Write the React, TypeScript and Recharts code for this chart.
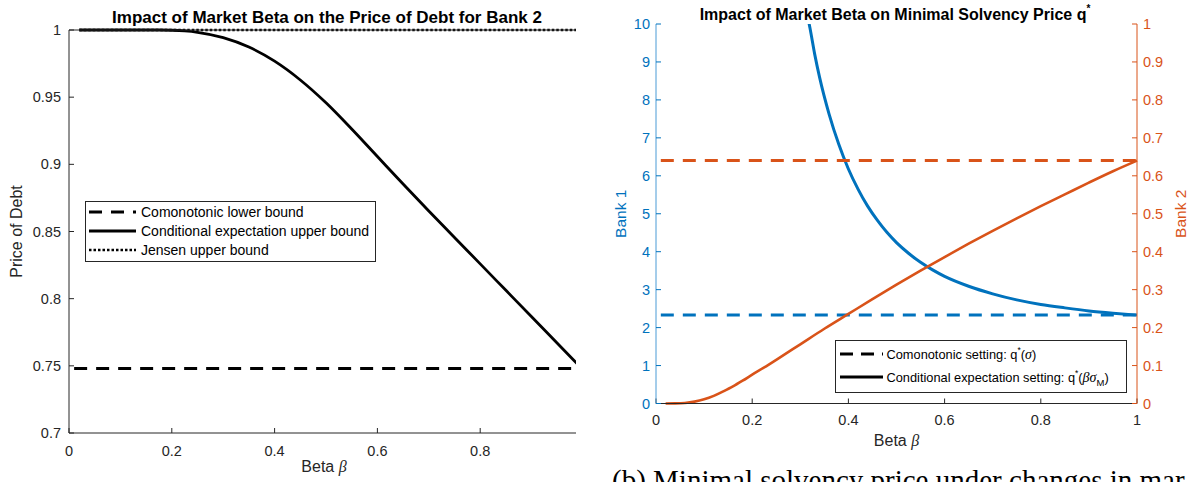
import React from 'react';
import { LineChart, Line, XAxis, YAxis, Legend } from 'recharts';

// ---------- Left panel: price of debt for Bank 2 ----------
const leftBeta = [0.02, 0.05, 0.1, 0.15, 0.175, 0.2, 0.225, 0.25, 0.3, 0.35, 0.4, 0.45, 0.5, 0.55, 0.6, 0.65, 0.7, 0.75, 0.8, 0.85, 0.9, 0.95, 1.0];
const condUpperBank2 = [1, 1, 1, 1, 1, 0.9998, 0.9993, 0.9983, 0.9943, 0.9873, 0.9768, 0.9628, 0.9458, 0.9263, 0.9058, 0.8853, 0.8653, 0.8456, 0.8259, 0.8062, 0.7865, 0.7668, 0.7471];
const comonoBetaLeft = [0.01, 1.0];
const comonoLowerBank2 = [0.748, 0.748];
const jensenBeta = [0.02, 1.0];
const jensenUpperBank2 = [1, 1];
const leftXTicks = [0, 0.2, 0.4, 0.6, 0.8];
const leftYTicks = [0.7, 0.75, 0.8, 0.85, 0.9, 0.95, 1];
const leftLegendLabels = ['Comonotonic lower bound', 'Conditional expectation upper bound', 'Jensen upper bound'];

// ---------- Right panel: minimal solvency price q* ----------
const bank1Beta = [0.31, 0.32, 0.33, 0.34, 0.36, 0.38, 0.4, 0.42, 0.44, 0.46, 0.48, 0.5, 0.525, 0.55, 0.575, 0.6, 0.65, 0.7, 0.75, 0.8, 0.85, 0.9, 0.95, 1.0];
const bank1Cond = [10.5, 9.9, 9.2, 8.6, 7.62, 6.83, 6.18, 5.65, 5.2, 4.83, 4.51, 4.24, 3.96, 3.72, 3.52, 3.35, 3.09, 2.89, 2.73, 2.61, 2.52, 2.44, 2.38, 2.33];
const bank2Beta = [0.02, 0.04, 0.06, 0.08, 0.1, 0.12, 0.14, 0.16, 0.18, 0.2, 0.225, 0.25, 0.3, 0.35, 0.4, 0.45, 0.5, 0.55, 0.6, 0.65, 0.7, 0.75, 0.8, 0.85, 0.9, 0.95, 1.0];
const bank2Cond = [0, 0.0003, 0.0015, 0.005, 0.011, 0.02, 0.032, 0.045, 0.06, 0.076, 0.095, 0.115, 0.156, 0.197, 0.236, 0.275, 0.313, 0.35, 0.386, 0.421, 0.455, 0.488, 0.52, 0.551, 0.582, 0.612, 0.64];
const comonoBetaRight = [0.01, 1.0];
const comonoBank1 = [2.33, 2.33];
const comonoBank2 = [0.64, 0.64];
const rightXTicks = [0, 0.2, 0.4, 0.6, 0.8, 1];
const bank1Ticks = [0, 1, 2, 3, 4, 5, 6, 7, 8, 9, 10];
const bank2Ticks = [0, 0.1, 0.2, 0.3, 0.4, 0.5, 0.6, 0.7, 0.8, 0.9, 1];

const toSeries = (xs: number[], ys: number[]) => xs.map((b, i) => ({ beta: b, value: ys[i] }));

const SANS = '"Liberation Sans", Arial, Helvetica, sans-serif';
const SERIF = '"Liberation Serif", "Times New Roman", serif';
const AXIS = '#262626';
const BLUE = '#0072BD';
const ORANGE = '#D95319';

const tickStyle = { fill: AXIS, fontSize: 14.5, fontFamily: SANS };

function LeftLegend() {
  const rows = [11, 30, 49];
  const dashes = ['13 9', undefined, '2.5 2'];
  const widths = [2.8, 2.8, 2.5];
  return (
    <svg width={291} height={61} style={{ display: 'block' }}>
      <rect x={0.5} y={0.5} width={290} height={60} fill="#fff" stroke={AXIS} strokeWidth={1} />
      {leftLegendLabels.map((label, i) => (
        <g key={label}>
          <line x1={4} x2={51} y1={rows[i]} y2={rows[i]} stroke="#000" strokeWidth={widths[i]} strokeDasharray={dashes[i]} />
          <text x={56} y={rows[i]} dy="0.36em" fontSize={14} fontFamily={SANS} fill="#000">{label}</text>
        </g>
      ))}
    </svg>
  );
}

function RightLegend() {
  return (
    <svg width={292} height={53} style={{ display: 'block' }}>
      <rect x={0.5} y={0.5} width={291} height={52} fill="#fff" stroke={AXIS} strokeWidth={1} />
      <line x1={5} x2={48} y1={14} y2={14} stroke="#000" strokeWidth={2.8} strokeDasharray="13 8" />
      <text x={51.5} y={14} dy="0.36em" fontSize={12.8} fontFamily={SANS} fill="#000">
        Comonotonic setting: q<tspan dy={-6} fontSize={8.5}>*</tspan>
        <tspan dy={6}>(</tspan>
        <tspan fontFamily={SERIF} fontStyle="italic" fontSize={14}>σ</tspan>)
      </text>
      <line x1={5} x2={48} y1={37} y2={37} stroke="#000" strokeWidth={2.8} />
      <text x={51.5} y={37} dy="0.36em" fontSize={12.8} fontFamily={SANS} fill="#000">
        Conditional expectation setting: q<tspan dy={-6} fontSize={8.5}>*</tspan>
        <tspan dy={6}>(</tspan>
        <tspan fontFamily={SERIF} fontStyle="italic" fontSize={14}>βσ</tspan>
        <tspan dy={4} fontSize={9.5}>M</tspan>
        <tspan dy={-4}>)</tspan>
      </text>
    </svg>
  );
}

export default function App() {
  return (
    <div style={{ position: 'absolute', left: 0, top: 0, width: 1188, height: 482, overflow: 'hidden', background: '#fff', fontFamily: SANS }}>
      {/* Left panel (cropped on its right edge as in the source figure) */}
      <div style={{ position: 'absolute', left: 0, top: 0, width: 576, height: 482, overflow: 'hidden' }}>
        <LineChart width={620} height={482} margin={{ top: 0, right: 37, bottom: 19, left: 9 }}>
          <XAxis dataKey="beta" type="number" domain={[0, 1]} ticks={leftXTicks} interval={0}
            tickSize={-5} tickMargin={18} height={30} stroke={AXIS} tick={tickStyle} />
          <XAxis xAxisId="top" orientation="top" dataKey="beta" type="number" domain={[0, 1]} ticks={leftXTicks}
            interval={0} tick={false} tickSize={-5} height={30} stroke={AXIS} />
          <YAxis type="number" domain={[0.7, 1]} ticks={leftYTicks} interval={0} width={60}
            tickSize={-5} tickMargin={13} stroke={AXIS} tick={tickStyle} />
          <Line data={toSeries(comonoBetaLeft, comonoLowerBank2)} dataKey="value" name={leftLegendLabels[0]}
            type="linear" stroke="#000" strokeWidth={2.8} strokeDasharray="13 9" dot={false} activeDot={false} isAnimationActive={false} />
          <Line data={toSeries(leftBeta, condUpperBank2)} dataKey="value" name={leftLegendLabels[1]}
            type="monotone" stroke="#000" strokeWidth={2.8} dot={false} activeDot={false} isAnimationActive={false} />
          <Line data={toSeries(jensenBeta, jensenUpperBank2)} dataKey="value" name={leftLegendLabels[2]}
            type="linear" stroke="#000" strokeWidth={2.5} strokeDasharray="2.5 2" dot={false} activeDot={false} isAnimationActive={false} />
          <Legend layout="vertical" align="center" verticalAlign="middle"
            wrapperStyle={{ left: 85, top: 201, width: 291, height: 61 }} content={() => <LeftLegend />} />
        </LineChart>
      </div>

      {/* Right panel */}
      <div style={{ position: 'absolute', left: 576, top: 0, width: 612, height: 482 }}>
        <LineChart width={612} height={482} margin={{ top: 24, right: 6, bottom: 48.5, left: 20 }}>
          <XAxis dataKey="beta" type="number" domain={[0, 1]} ticks={rightXTicks} interval={0}
            tickSize={-5} tickMargin={16.5} height={30} stroke={AXIS} tick={tickStyle} />
          <YAxis yAxisId="left" type="number" domain={[0, 10]} ticks={bank1Ticks} interval={0} width={60}
            tickSize={-5} tickMargin={11} stroke={BLUE} axisLine={{ stroke: '#4a9bd6' }}
            tick={{ fill: BLUE, fontSize: 14.5, fontFamily: SANS }} allowDataOverflow />
          <YAxis yAxisId="right" orientation="right" type="number" domain={[0, 1]} ticks={bank2Ticks} interval={0} width={45}
            tickSize={-5} tickMargin={11} stroke={ORANGE} tick={{ fill: ORANGE, fontSize: 14.5, fontFamily: SANS }} />
          <Line yAxisId="left" data={toSeries(comonoBetaRight, comonoBank1)} dataKey="value" name="Bank 1 comonotonic"
            type="linear" stroke={BLUE} strokeWidth={3} strokeDasharray="13 9" dot={false} activeDot={false} isAnimationActive={false} />
          <Line yAxisId="left" data={toSeries(bank1Beta, bank1Cond)} dataKey="value" name="Bank 1 conditional"
            type="monotone" stroke={BLUE} strokeWidth={3} dot={false} activeDot={false} isAnimationActive={false} />
          <Line yAxisId="right" data={toSeries(comonoBetaRight, comonoBank2)} dataKey="value" name="Bank 2 comonotonic"
            type="linear" stroke={ORANGE} strokeWidth={3} strokeDasharray="13 9" dot={false} activeDot={false} isAnimationActive={false} />
          <Line yAxisId="right" data={toSeries(bank2Beta, bank2Cond)} dataKey="value" name="Bank 2 conditional"
            type="monotone" stroke={ORANGE} strokeWidth={2.6} dot={false} activeDot={false} isAnimationActive={false} />
          <Legend layout="vertical" align="center" verticalAlign="middle"
            wrapperStyle={{ left: 259, top: 340, width: 292, height: 53 }} content={() => <RightLegend />} />
        </LineChart>
      </div>

      {/* Titles, axis labels and caption */}
      <svg width={1188} height={482} style={{ position: 'absolute', left: 0, top: 0, pointerEvents: 'none' }} fontFamily={SANS}>
        <text x={327} y={23} textAnchor="middle" fontWeight="bold" fontSize={17} fill="#000">
          Impact of Market Beta on the Price of Debt for Bank 2
        </text>
        <text transform="translate(22,231.5) rotate(-90)" textAnchor="middle" fontSize={16} fill={AXIS}>Price of Debt</text>
        <text x={324} y={472} textAnchor="middle" fontSize={16} fill={AXIS}>
          Beta <tspan fontFamily={SERIF} fontStyle="italic">β</tspan>
        </text>

        <text x={895} y={20} textAnchor="middle" fontWeight="bold" fontSize={16} fill="#000">
          Impact of Market Beta on Minimal Solvency Price q<tspan dy={-8} fontSize={10}>*</tspan>
        </text>
        <text transform="translate(626,213.75) rotate(-90)" textAnchor="middle" fontSize={15.5} fill={BLUE}>Bank 1</text>
        <text transform="translate(1186,213.75) rotate(-90)" textAnchor="middle" fontSize={15.5} fill={ORANGE}>Bank 2</text>
        <text x={896.5} y={446} textAnchor="middle" fontSize={16} fill={AXIS}>
          Beta <tspan fontFamily={SERIF} fontStyle="italic">β</tspan>
        </text>

        <text x={612} y={490} fontFamily={SERIF} fontSize={29} fill="#000">
          (b) Minimal solvency price under changes in mar
        </text>
      </svg>
    </div>
  );
}
